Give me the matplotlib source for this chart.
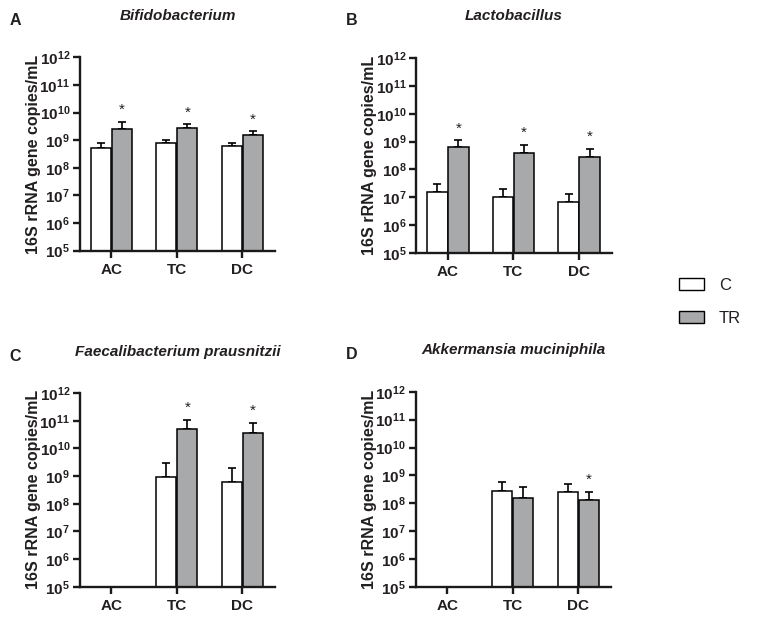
import numpy as np
import matplotlib.pyplot as plt
from matplotlib.patches import Patch
from matplotlib.ticker import FixedLocator, FuncFormatter, NullLocator

plt.rcParams['font.family'] = ['Liberation Sans', 'DejaVu Sans']
plt.rcParams['mathtext.fontset'] = 'custom'
plt.rcParams['mathtext.rm'] = 'Liberation Sans:bold'
plt.rcParams['mathtext.bf'] = 'Liberation Sans:bold'

sites = ['AC', 'TC', 'DC']
titres = ['Bifidobacterium', 'Lactobacillus',
          'Faecalibacterium prausnitzii', 'Akkermansia muciniphila']
lettres = ['A', 'B', 'C', 'D']

bifido_c = [5.0e8, 7.8e8, 5.9e8]
bifido_c_err = [7.8e8, 1.0e9, 7.6e8]
bifido_tr = [2.6e9, 2.7e9, 1.6e9]
bifido_tr_err = [4.7e9, 3.7e9, 2.1e9]
bifido_sig = [True, True, True]

lacto_c = [1.6e7, 1.05e7, 7.0e6]
lacto_c_err = [2.9e7, 2.0e7, 1.3e7]
lacto_tr = [6.6e8, 4.0e8, 2.9e8]
lacto_tr_err = [1.1e9, 7.6e8, 5.6e8]
lacto_sig = [True, True, True]

faeca_c = [np.nan, 9.2e8, 6.0e8]
faeca_c_err = [np.nan, 2.9e9, 2.0e9]
faeca_tr = [np.nan, 4.9e10, 3.6e10]
faeca_tr_err = [np.nan, 1.1e11, 8.3e10]
faeca_sig = [False, True, True]

akk_c = [np.nan, 2.7e8, 2.6e8]
akk_c_err = [np.nan, 5.9e8, 5.0e8]
akk_tr = [np.nan, 1.6e8, 1.3e8]
akk_tr_err = [np.nan, 3.9e8, 2.6e8]
akk_sig = [False, False, True]

panneaux = [
    (bifido_c, bifido_c_err, bifido_tr, bifido_tr_err, bifido_sig),
    (lacto_c, lacto_c_err, lacto_tr, lacto_tr_err, lacto_sig),
    (faeca_c, faeca_c_err, faeca_tr, faeca_tr_err, faeca_sig),
    (akk_c, akk_c_err, akk_tr, akk_tr_err, akk_sig),
]

texte = '#231f20'
gris = '#a8a9ab'

fig = plt.figure(figsize=(7.6, 6.17), dpi=100)
positions = [
    [0.105, 0.594, 0.257, 0.313],
    [0.548, 0.590, 0.257, 0.316],
    [0.105, 0.049, 0.257, 0.314],
    [0.547, 0.049, 0.257, 0.316],
]


def fmt_puissance(v, pos):
    e = int(round(np.log10(v)))
    return r'$\mathbf{10^{%d}}$' % e


for i, (pos, (c, c_err, tr, tr_err, sig)) in enumerate(zip(positions, panneaux)):
    ax = fig.add_axes(pos)
    x = np.arange(len(sites))
    c = np.array(c)
    tr = np.array(tr)
    c_err = np.array(c_err)
    tr_err = np.array(tr_err)
    w = 0.31
    d = 0.16

    ax.errorbar(x - d, c, yerr=[np.zeros(3), c_err - c], fmt='none',
                ecolor='black', elinewidth=1.2, capsize=3.2, capthick=1.2, zorder=1)
    ax.errorbar(x + d, tr, yerr=[np.zeros(3), tr_err - tr], fmt='none',
                ecolor='black', elinewidth=1.2, capsize=3.2, capthick=1.2, zorder=1)
    ax.bar(x - d, c, width=w, bottom=1e5, color='white', edgecolor='black',
           linewidth=1.1, zorder=2)
    ax.bar(x + d, tr, width=w, bottom=1e5, color=gris, edgecolor='black',
           linewidth=1.1, zorder=2)
    # hauteurs : bar avec bottom=1e5 ajoute la base, on corrige
    for p, v in zip(ax.patches[:3], c):
        p.set_height(v - 1e5 if np.isfinite(v) else 0)
    for p, v in zip(ax.patches[3:], tr):
        p.set_height(v - 1e5 if np.isfinite(v) else 0)

    for k in range(3):
        if sig[k]:
            ax.text(x[k] + d, tr_err[k] * 10 ** 0.28, '*', ha='center',
                    va='baseline', fontsize=11, color=texte)

    ax.set_yscale('log')
    ax.set_ylim(1e5, 1e12)
    ax.set_xlim(-0.48, 2.5)
    ax.yaxis.set_major_locator(FixedLocator([10.0 ** e for e in range(5, 13)]))
    ax.yaxis.set_minor_locator(NullLocator())
    ax.yaxis.set_major_formatter(FuncFormatter(fmt_puissance))
    ax.set_xticks(x)
    ax.set_xticklabels(sites, fontsize=11, fontweight='bold', color=texte)

    for s in ['top', 'right']:
        ax.spines[s].set_visible(False)
    for s in ['left', 'bottom']:
        ax.spines[s].set_linewidth(1.7)
        ax.spines[s].set_color('#1a1a1a')
    ax.tick_params(axis='both', width=1.7, length=5, color='#1a1a1a')
    ax.tick_params(axis='y', labelsize=11, labelcolor=texte, pad=2)
    ax.tick_params(axis='x', pad=4)

    ax.set_ylabel('16S rRNA gene copies/mL', fontsize=11.5, fontweight='bold',
                  color=texte, labelpad=-1)
    ax.set_title(titres[i], fontsize=11, fontweight='bold', style='italic',
                 color=texte, pad=27)
    ax.text(-0.36, 1.19, lettres[i], transform=ax.transAxes, fontsize=11.5,
            fontweight='bold', color=texte, ha='left', va='center')

poignees = [Patch(facecolor='white', edgecolor='black', linewidth=1.0),
            Patch(facecolor=gris, edgecolor='black', linewidth=1.0)]
fig.legend(poignees, ['C', 'TR'], loc='center left',
           bbox_to_anchor=(664 / 760, 1 - 302 / 617), frameon=False,
           fontsize=12, handlelength=1.5, handleheight=0.7, labelspacing=1.1,
           handletextpad=0.9, labelcolor=texte)

fig.savefig('out.png', dpi=100)
